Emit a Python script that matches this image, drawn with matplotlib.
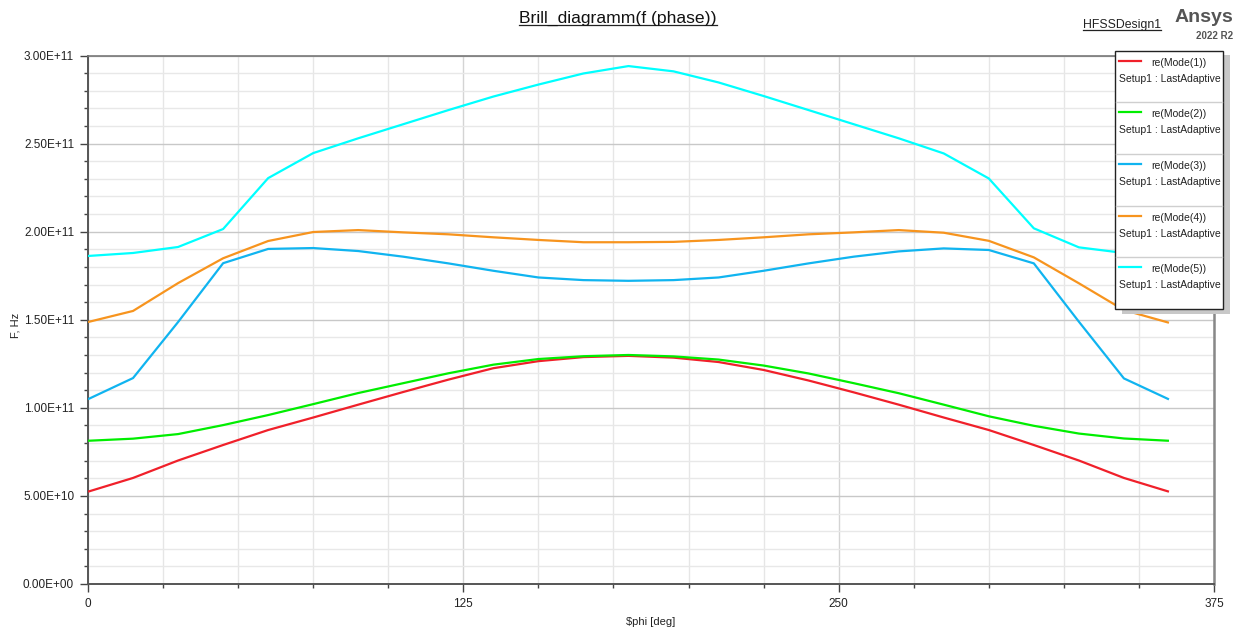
"""Brillouin diagram of the first five modes, redrawn in the HFSS report style."""
import matplotlib

matplotlib.use("Agg")
import matplotlib.pyplot as plt
from matplotlib.lines import Line2D
from matplotlib.patches import Rectangle
from matplotlib.ticker import FuncFormatter, MultipleLocator

plt.rcParams["font.family"] = ["Liberation Sans", "DejaVu Sans"]

W, H = 1243, 634

# phase sweep in degrees, frequencies in GHz (scaled to Hz when drawn)
phi = [0, 15, 30, 45, 60, 75, 90, 105, 120, 135, 150, 165, 180,
       195, 210, 225, 240, 255, 270, 285, 300, 315, 330, 345, 360]
mode1 = [52.4, 60.2, 70.1, 78.9, 87.4, 94.5, 101.8, 109.0, 116.0, 122.5, 126.5, 128.8, 129.5,
         128.5, 126.0, 121.5, 115.5, 108.8, 101.8, 94.5, 87.4, 78.9, 70.1, 60.2, 52.4]
mode2 = [81.3, 82.5, 85.1, 90.2, 95.9, 102.1, 108.4, 114.0, 119.6, 124.5, 127.7, 129.3, 130.0,
         129.2, 127.4, 124.0, 119.5, 114.0, 108.3, 101.8, 95.2, 89.8, 85.4, 82.6, 81.3]
mode3 = [104.9, 116.9, 148.7, 182.1, 190.2, 190.7, 189.0, 185.8, 182.0, 177.8, 174.0, 172.5, 172.1,
         172.5, 174.0, 177.8, 182.0, 185.8, 188.8, 190.5, 189.6, 182.0, 148.9, 116.7, 104.8]
mode4 = [148.7, 155.0, 170.8, 184.9, 194.7, 199.8, 200.9, 199.6, 198.5, 196.8, 195.3, 194.0, 194.0,
         194.2, 195.3, 196.8, 198.5, 199.6, 200.9, 199.4, 194.8, 185.4, 170.7, 155.5, 148.3]
mode5 = [186.2, 187.9, 191.3, 201.5, 230.4, 244.6, 253.0, 261.0, 269.0, 276.7, 283.5, 289.8, 294.0,
         291.0, 284.7, 277.0, 269.0, 261.0, 253.0, 244.4, 230.2, 201.9, 191.1, 187.9, 186.2]

labels = ["re(Mode(1))", "re(Mode(2))", "re(Mode(3))", "re(Mode(4))", "re(Mode(5))"]
colors = ["#f0202a", "#00ee00", "#10b4f0", "#f7941e", "#00ffff"]
series = [mode1, mode2, mode3, mode4, mode5]


def fx(x):
    return x / W


def fy(y):
    return 1 - y / H


def underline(fig, txt, color="#222222"):
    fig.canvas.draw()
    bb = txt.get_window_extent()
    y = (bb.y0 + 1) / H
    fig.add_artist(Line2D([bb.x0 / W, bb.x1 / W], [y, y], color=color, lw=0.9))


fig = plt.figure(figsize=(W / 100, H / 100), dpi=100)
ax = fig.add_axes([fx(88), fy(584), fx(1214) - fx(88), fy(55.5) - fy(584)])

for vals, c in zip(series, colors):
    ax.plot(phi, [v * 1e9 for v in vals], color=c, lw=1.6, solid_capstyle="butt", zorder=3)

ax.set_xlim(0, 375)
ax.set_ylim(0, 3e11)
ax.xaxis.set_major_locator(MultipleLocator(125))
ax.xaxis.set_minor_locator(MultipleLocator(25))
ax.yaxis.set_major_locator(MultipleLocator(5e10))
ax.yaxis.set_minor_locator(MultipleLocator(1e10))
ax.yaxis.set_major_formatter(FuncFormatter(lambda v, _: f"{v:.2E}"))

ax.grid(which="major", axis="y", color="#c8c8c8", lw=1.0)
ax.grid(which="minor", axis="y", color="#e8e8e8", lw=1.0)
ax.grid(which="major", axis="x", color="#d4d4d4", lw=1.0)
ax.grid(which="minor", axis="x", color="#e6e6e6", lw=1.0)
ax.set_axisbelow(True)

ax.tick_params(which="major", direction="out", length=6, width=1.0, color="#444444",
               labelsize=8.5, labelcolor="#222222", pad=4)
ax.tick_params(axis="x", which="major", pad=4)
ax.tick_params(which="minor", direction="out", length=3, width=1.0, color="#444444")

for side in ("left", "bottom"):
    ax.spines[side].set_color("#555555")
    ax.spines[side].set_linewidth(1.4)
ax.spines["top"].set_color("#777777")
ax.spines["top"].set_linewidth(1.2)
ax.spines["right"].set_color("#888888")
ax.spines["right"].set_linewidth(1.8)

ax.set_xlabel(r"\$phi [deg]", fontsize=8, color="#222222", labelpad=5)
fig.text(fx(15), fy(325), "F, Hz", rotation=90, fontsize=8, color="#222222",
         ha="center", va="center")

title = fig.text(fx(618), fy(18), "Brill_diagramm(f (phase))", fontsize=12.6,
                 ha="center", va="center", color="#111111")
underline(fig, title)
design = fig.text(fx(1122), fy(25), "HFSSDesign1", fontsize=8.8, ha="center",
                  va="center", color="#222222")
underline(fig, design)
fig.text(fx(1233), fy(18), "Ansys", fontsize=14, fontweight="bold", ha="right",
         va="center", color="#555555")
fig.text(fx(1233), fy(36), "2022 R2", fontsize=7, fontweight="bold", ha="right",
         va="center", color="#555555")

# legend box drawn by hand so it can hang over the right edge like the original
lx0, lx1, ly0, ly1 = 1115, 1223, 50.5, 309
fig.add_artist(Rectangle((fx(lx0 + 7), fy(ly1 + 5)), fx(lx1 - lx0), fy(ly0) - fy(ly1),
                         facecolor="#c8c8c8", edgecolor="none", zorder=10))
fig.add_artist(Rectangle((fx(lx0), fy(ly1)), fx(lx1 - lx0), fy(ly0) - fy(ly1),
                         facecolor="white", edgecolor="#222222", lw=1.0, zorder=11))
step = (ly1 - ly0) / len(labels)
for i, (lab, c) in enumerate(zip(labels, colors)):
    top = ly0 + i * step
    if i:
        fig.add_artist(Line2D([fx(lx0 + 1), fx(lx1 - 1)], [fy(top), fy(top)],
                              color="#cfcfcf", lw=1.0, zorder=12))
    fig.add_artist(Line2D([fx(1119), fx(1141)], [fy(top + 10), fy(top + 10)],
                          color=c, lw=1.6, zorder=12))
    fig.text(fx(1179), fy(top + 12), lab, fontsize=7.5, ha="center", va="center",
             color="#222222", zorder=12)
    fig.text(fx(1119), fy(top + 28), "Setup1 : LastAdaptive", fontsize=7.5, ha="left",
             va="center", color="#222222", zorder=12)

fig.savefig("out.png", dpi=100)
